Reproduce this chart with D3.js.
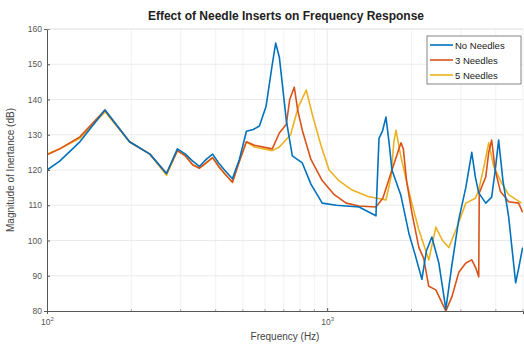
<!DOCTYPE html>
<html>
<head>
<meta charset="utf-8">
<script src="https://cdn.jsdelivr.net/npm/d3@7"></script>
<style>
  html, body { margin: 0; padding: 0; background: #fff; }
  svg { display: block; font-family: "Liberation Sans", Arial, sans-serif; }
</style>
</head>
<body>
<svg id="chart" width="524" height="346"></svg>
<script>
// Frequency response (inertance magnitude) for three needle configurations
const seriesNames = ["No Needles", "3 Needles", "5 Needles"];
const seriesColors = ["#0072BD", "#D95319", "#EDB120"];

const freqNone = [100, 111, 131, 161, 197, 233, 267, 292, 312, 331, 350, 370, 390, 410, 430, 459, 486, 515, 545, 573, 605, 637, 655, 675, 715, 751, 815, 875, 960, 1080, 1300, 1493, 1531, 1575, 1621, 1662, 1703, 1830, 1958, 2060, 2178, 2260, 2364, 2504, 2652, 2787, 2950, 3125, 3282, 3380, 3475, 3681, 3865, 3980, 4093, 4240, 4444, 4707, 4823, 4984];
const magNone  = [120, 122.5, 128, 137, 128, 124.5, 119, 126, 124.5, 122.5, 121, 123, 124.5, 122, 120, 117.5, 123, 131, 131.5, 132.5, 138, 150, 156, 152, 134, 124, 122, 116, 110.6, 110, 109.5, 107, 129, 131, 135, 128, 120, 113, 102, 96, 89, 97, 101, 93.6, 80.5, 93, 106, 115, 125, 118, 113.5, 110.6, 112.3, 120, 128.5, 117, 106.7, 88, 92, 98];

const freqThree = [100, 111, 131, 161, 197, 233, 267, 292, 312, 331, 350, 370, 390, 410, 430, 459, 486, 515, 550, 637, 675, 715, 735, 763, 785, 815, 875, 960, 1060, 1169, 1300, 1493, 1580, 1703, 1834, 1870, 1920, 2005, 2125, 2210, 2305, 2443, 2580, 2652, 2787, 2950, 3125, 3282, 3400, 3475, 3490, 3681, 3772, 3865, 3980, 4150, 4444, 4823, 4984];
const magThree  = [124.3, 126, 129.4, 137, 128, 124.5, 119, 125.5, 124, 121.5, 120.5, 122, 123.5, 121, 119, 116.5, 122.5, 128, 127, 126, 130.5, 133, 140, 143.5, 137, 131.3, 123, 117, 113, 110.6, 109.8, 109.5, 112, 120, 127.7, 126, 117, 108, 98, 95, 87, 86, 82, 80, 84, 91, 93.6, 94.5, 92, 89.7, 113.5, 118, 125, 128.5, 120, 114, 111, 110.6, 108];

const freqFive = [100, 111, 131, 161, 197, 233, 267, 292, 312, 331, 350, 370, 390, 410, 430, 459, 486, 515, 550, 637, 675, 740, 790, 842, 890, 950, 1016, 1100, 1228, 1400, 1621, 1690, 1730, 1761, 1830, 1930, 2005, 2125, 2305, 2443, 2580, 2718, 2880, 3125, 3380, 3475, 3650, 3772, 3930, 4197, 4444, 4940];
const magFive  = [124.5, 126, 129, 136.5, 128, 124.5, 118.5, 125.5, 124, 121.5, 120.5, 122, 123.5, 121, 119, 116.5, 122.5, 128, 126.5, 125.5, 126.5, 130, 138, 142.7, 135, 127, 120, 117, 114.3, 112.5, 111.5, 118, 128, 131.3, 124, 116, 110.6, 103, 94.5, 103.8, 100, 98, 103, 110.6, 112, 114.3, 122, 127.7, 121, 116.3, 113, 110.6];

const yTicks = [80, 90, 100, 110, 120, 130, 140, 150, 160];
const xTicks = [100, 1000];
const xTickExp = ["2", "3"];

const svg = d3.select("#chart");
const plot = { left: 47, right: 523, top: 29, bottom: 311 };

const x = d3.scaleLog().domain([100, 5000]).range([plot.left, plot.right]);
const y = d3.scaleLinear().domain([80, 160]).range([plot.bottom, plot.top]);

// grid: minor log lines then major lines
const minorX = [];
for (let d = 100; d < 5000; d *= 10) {
  for (let k = 2; k <= 9; k++) { if (d * k <= 5000) minorX.push(d * k); }
}
svg.append("g").selectAll("line").data(minorX).join("line")
  .attr("x1", d => x(d)).attr("x2", d => x(d))
  .attr("y1", plot.top).attr("y2", plot.bottom)
  .attr("stroke", "#efefef").attr("stroke-width", 0.8);

svg.append("g").selectAll("line").data(yTicks.slice(1, -1)).join("line")
  .attr("x1", plot.left).attr("x2", plot.right)
  .attr("y1", d => y(d)).attr("y2", d => y(d))
  .attr("stroke", "#e4e4e4").attr("stroke-width", 0.8);

svg.append("g").selectAll("line").data(xTicks.slice(1)).join("line")
  .attr("x1", d => x(d)).attr("x2", d => x(d))
  .attr("y1", plot.top).attr("y2", plot.bottom)
  .attr("stroke", "#e4e4e4").attr("stroke-width", 0.8);

// data lines
svg.append("clipPath").attr("id", "plotClip").append("rect")
  .attr("x", plot.left).attr("y", plot.top)
  .attr("width", plot.right - plot.left).attr("height", plot.bottom - plot.top);

const line = d3.line().x(d => x(d[0])).y(d => y(d[1]));
const seriesData = [
  d3.zip(freqNone, magNone),
  d3.zip(freqThree, magThree),
  d3.zip(freqFive, magFive)
];
const linesG = svg.append("g").attr("clip-path", "url(#plotClip)");
// draw order: 5 needles at back, no needles on top
[2, 1, 0].forEach(i => {
  linesG.append("path").datum(seriesData[i])
    .attr("d", line)
    .attr("fill", "none")
    .attr("stroke", seriesColors[i])
    .attr("stroke-width", 1.6)
    .attr("stroke-linejoin", "round");
});

// axes
const yAxis = d3.axisLeft(y).tickValues(yTicks).tickSize(3).tickFormat(d3.format("d"));
const yg = svg.append("g").attr("transform", `translate(${plot.left},0)`).call(yAxis);
yg.select(".domain").attr("stroke", "#555");
yg.selectAll(".tick line").attr("stroke", "#555").attr("x2", 3);
yg.selectAll(".tick text").attr("x", -5).attr("fill", "#555").attr("font-size", 8.5)
  .attr("font-family", "Liberation Sans, Arial, sans-serif");

const xAxis = d3.axisBottom(x).tickValues(xTicks).tickSize(3).tickFormat(() => "");
const xg = svg.append("g").attr("transform", `translate(0,${plot.bottom})`).call(xAxis);
xg.select(".domain").attr("stroke", "#555");
xg.selectAll(".tick line").attr("stroke", "#555").attr("y2", -3);
xg.selectAll(".tick").each(function (d, i) {
  const t = d3.select(this).append("text")
    .attr("y", 14).attr("fill", "#555").attr("font-size", 8.5)
    .attr("text-anchor", "middle")
    .attr("font-family", "Liberation Sans, Arial, sans-serif");
  t.append("tspan").text("10");
  t.append("tspan").attr("dy", -4).attr("font-size", 6).text(xTickExp[i]);
});
// minor x ticks
svg.append("g").selectAll("line").data(minorX).join("line")
  .attr("x1", d => x(d)).attr("x2", d => x(d))
  .attr("y1", plot.bottom).attr("y2", plot.bottom - 2)
  .attr("stroke", "#777").attr("stroke-width", 0.6);

// faint top edge of the axes box
svg.append("line").attr("x1", plot.left).attr("x2", plot.right)
  .attr("y1", plot.top).attr("y2", plot.top).attr("stroke", "#dcdcdc");

// title and axis labels
svg.append("text").attr("x", 286).attr("y", 20)
  .attr("text-anchor", "middle").attr("font-size", 12).attr("font-weight", "bold")
  .attr("fill", "#222").text("Effect of Needle Inserts on Frequency Response");

svg.append("text").attr("x", 285).attr("y", 340)
  .attr("text-anchor", "middle").attr("font-size", 10).attr("fill", "#444")
  .text("Frequency (Hz)");

svg.append("text")
  .attr("transform", `translate(14,${(plot.top + plot.bottom) / 2}) rotate(-90)`)
  .attr("text-anchor", "middle").attr("font-size", 10).attr("fill", "#444")
  .text("Magnitude of Inertance (dB)");

// legend
const lg = svg.append("g").attr("transform", "translate(427,36)");
lg.append("rect").attr("width", 94).attr("height", 48)
  .attr("fill", "#fff").attr("stroke", "#666").attr("stroke-width", 0.8);
seriesNames.forEach((name, i) => {
  const yy = 9 + i * 15;
  lg.append("line").attr("x1", 3).attr("x2", 26).attr("y1", yy).attr("y2", yy)
    .attr("stroke", seriesColors[i]).attr("stroke-width", 1.6);
  lg.append("text").attr("x", 28).attr("y", yy + 3.5)
    .attr("font-size", 9.5).attr("fill", "#222").text(name);
});
</script>
</body>
</html>
